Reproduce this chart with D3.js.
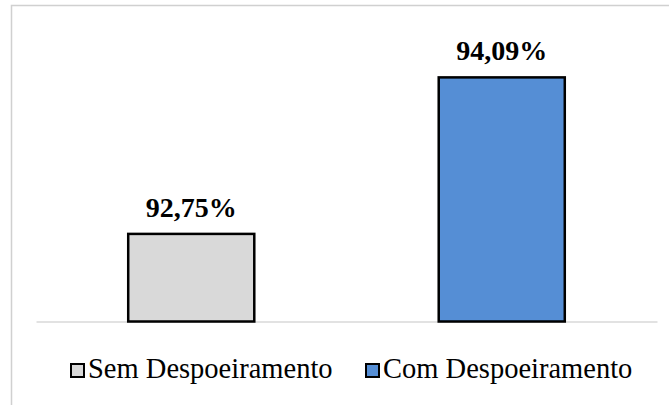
<!DOCTYPE html>
<html>
<head>
<meta charset="utf-8">
<script src="https://cdn.jsdelivr.net/npm/d3@7"></script>
<style>
  html, body { margin: 0; padding: 0; background: #fff; }
  svg { display: block; }
</style>
</head>
<body>
<svg id="chart" width="669" height="405"></svg>
<script>
// Eficiência média por tratamento (%)
const categories = ["Sem Despoeiramento", "Com Despoeiramento"];
const values = [92.75, 94.09];
const valueLabels = ["92,75%", "94,09%"];
const colors = ["#d9d9d9", "#558ed5"];
const yDomain = [92, 94.5];

const svg = d3.select("#chart");

// outer chart frame (top and left edges lie inside the view)
svg.append("rect")
  .attr("x", 11.5).attr("y", 5.5)
  .attr("width", 700).attr("height", 420)
  .attr("fill", "none")
  .attr("stroke", "#d0d0d0")
  .attr("stroke-width", 1.5);

const x = d3.scaleBand()
  .domain(categories)
  .range([36, 657])
  .paddingInner(0.594)
  .paddingOuter(0.297);

const y = d3.scaleLinear()
  .domain(yDomain)
  .range([321.5, 29.5]);

// category axis line (no ticks, no labels)
const xAxis = d3.axisBottom(x).tickSize(0).tickFormat("");
const gx = svg.append("g")
  .attr("transform", `translate(0,${y(yDomain[0])})`)
  .call(xAxis);
gx.select(".domain").attr("stroke", "#d9d9d9").attr("stroke-width", 1.5);

// bars
svg.append("g")
  .selectAll("rect")
  .data(categories)
  .join("rect")
  .attr("x", d => x(d))
  .attr("y", (d, i) => y(values[i]))
  .attr("width", x.bandwidth())
  .attr("height", (d, i) => y(yDomain[0]) - y(values[i]))
  .attr("fill", (d, i) => colors[i])
  .attr("stroke", "#000")
  .attr("stroke-width", 2.5);

// value labels
svg.append("g")
  .selectAll("text")
  .data(categories)
  .join("text")
  .attr("x", d => x(d) + x.bandwidth() / 2)
  .attr("y", (d, i) => y(values[i]) - 17)
  .attr("text-anchor", "middle")
  .attr("font-family", "'Liberation Serif', 'Times New Roman', serif")
  .attr("font-weight", "bold")
  .attr("font-size", 28)
  .attr("fill", "#000")
  .text((d, i) => valueLabels[i]);

// legend
const legendX = [71, 366];
const legend = svg.append("g")
  .selectAll("g")
  .data(categories)
  .join("g")
  .attr("transform", (d, i) => `translate(${legendX[i]},364)`);

legend.append("rect")
  .attr("width", 13).attr("height", 13)
  .attr("fill", (d, i) => colors[i])
  .attr("stroke", "#000")
  .attr("stroke-width", 2);

legend.append("text")
  .attr("x", 17)
  .attr("y", 14)
  .attr("font-family", "'Liberation Serif', 'Times New Roman', serif")
  .attr("font-size", 28.5)
  .attr("fill", "#000")
  .text(d => d);
</script>
</body>
</html>
